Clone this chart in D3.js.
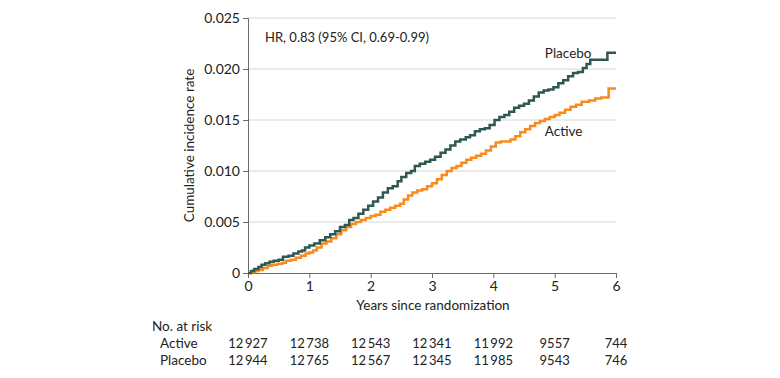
<!DOCTYPE html>
<html>
<head>
<meta charset="utf-8">
<script src="https://cdn.jsdelivr.net/npm/d3@7"></script>
<style>
  body { margin: 0; background: #fff; }
  svg text { font-family: Lato, "Open Sans", sans-serif; fill: #222; }
</style>
</head>
<body>
<div id="chart"></div>
<script>
// cumulative incidence, step points [years, rate]
const placeboTimes = [0, 0.05, 0.1, 0.17, 0.22, 0.28, 0.35, 0.42, 0.5, 0.57, 0.66, 0.74, 0.82, 0.88, 0.93, 1.0,
  1.08, 1.17, 1.26, 1.34, 1.42, 1.5, 1.58, 1.65, 1.72, 1.8, 1.88, 1.96, 2.04, 2.12, 2.2, 2.28, 2.36, 2.44, 2.5,
  2.58, 2.66, 2.72, 2.8, 2.89, 2.97, 3.05, 3.14, 3.22, 3.3, 3.38, 3.46, 3.55, 3.62, 3.7, 3.78, 3.86, 3.94, 4.02,
  4.1, 4.18, 4.26, 4.34, 4.42, 4.5, 4.58, 4.66, 4.74, 4.82, 4.9, 4.98, 5.06, 5.14, 5.22, 5.3, 5.38, 5.46, 5.52,
  5.58, 5.66, 5.86, 6.0];
const placeboValues = [0, 0.0002, 0.0004, 0.0006, 0.0008, 0.00095, 0.0011, 0.0012, 0.0013, 0.0016, 0.0017, 0.0019,
  0.0021, 0.0022, 0.0025, 0.0027, 0.0029, 0.0032, 0.0035, 0.0038, 0.0041, 0.0045, 0.0047, 0.0052, 0.0054, 0.0058,
  0.0062, 0.0066, 0.0070, 0.0074, 0.0079, 0.0083, 0.0085, 0.0090, 0.0094, 0.0098, 0.0100, 0.0105, 0.0107, 0.0109,
  0.0111, 0.0114, 0.0118, 0.0121, 0.0125, 0.0129, 0.0131, 0.0133, 0.0135, 0.0139, 0.0141, 0.0142, 0.0145, 0.0150,
  0.0153, 0.0155, 0.0158, 0.0162, 0.0164, 0.0166, 0.0169, 0.0173, 0.0177, 0.0179, 0.0180, 0.0182, 0.0186, 0.0189,
  0.0193, 0.0196, 0.0197, 0.0201, 0.0205, 0.0209, 0.0209, 0.0216, 0.0216];

const activeTimes = [0, 0.06, 0.12, 0.17, 0.24, 0.32, 0.39, 0.48, 0.56, 0.62, 0.7, 0.78, 0.86, 0.94, 1.0, 1.06,
  1.12, 1.2, 1.28, 1.36, 1.44, 1.52, 1.6, 1.68, 1.76, 1.84, 1.92, 2.0, 2.08, 2.16, 2.24, 2.32, 2.4, 2.48, 2.54,
  2.61, 2.68, 2.76, 2.84, 2.92, 3.0, 3.08, 3.16, 3.24, 3.32, 3.4, 3.48, 3.56, 3.64, 3.72, 3.8, 3.88, 3.96, 4.04,
  4.12, 4.2, 4.28, 4.36, 4.44, 4.52, 4.6, 4.68, 4.76, 4.84, 4.92, 5.0, 5.08, 5.17, 5.26, 5.35, 5.44, 5.56, 5.66,
  5.76, 5.88, 6.0];
const activeValues = [0, 0.0001, 0.0002, 0.0003, 0.0005, 0.0007, 0.0008, 0.0009, 0.0010, 0.0012, 0.0013, 0.0015,
  0.0017, 0.0019, 0.0020, 0.0022, 0.0025, 0.0029, 0.0031, 0.0034, 0.0038, 0.0042, 0.0045, 0.0048, 0.0050, 0.0052,
  0.0054, 0.0056, 0.0057, 0.0060, 0.0062, 0.0064, 0.0066, 0.0068, 0.0072, 0.0076, 0.0079, 0.0081, 0.0082, 0.0085,
  0.0088, 0.0092, 0.0096, 0.0100, 0.0103, 0.0105, 0.0108, 0.0111, 0.0113, 0.0115, 0.0117, 0.0120, 0.0124, 0.0128,
  0.0129, 0.0129, 0.0131, 0.0134, 0.0138, 0.0141, 0.0144, 0.0147, 0.0149, 0.0151, 0.0153, 0.0155, 0.0157, 0.0160,
  0.0163, 0.0165, 0.0168, 0.0169, 0.0171, 0.0172, 0.0181, 0.0181];

const xTicks = [0, 1, 2, 3, 4, 5, 6];
const yTicks = [0, 0.005, 0.010, 0.015, 0.020, 0.025];
const yTickLabels = ['0', '0.005', '0.010', '0.015', '0.020', '0.025'];

const riskGroups = ['Active', 'Placebo'];
const riskActive = ['12\u2009927', '12\u2009738', '12\u2009543', '12\u2009341', '11\u2009992', '9557', '744'];
const riskPlacebo = ['12\u2009944', '12\u2009765', '12\u2009567', '12\u2009345', '11\u2009985', '9543', '746'];

const width = 780;
const height = 378;
const margin = { left: 248, right: 164, top: 18, bottom: 105 };

const colPlacebo = '#2e5953';
const colActive = '#fb8a1c';

const svg = d3.select('#chart')
    .append('svg')
    .attr('width', width)
    .attr('height', height);

const xScale = d3.scaleLinear().domain([0, 6]).range([margin.left, width - margin.right]);
const yScale = d3.scaleLinear().domain([0, 0.025]).range([height - margin.bottom, margin.top]);

// gridlines
svg.append('g')
    .selectAll('line')
    .data(yTicks.slice(1))
    .enter()
    .append('line')
    .attr('x1', xScale(0))
    .attr('x2', xScale(6))
    .attr('y1', d => yScale(d))
    .attr('y2', d => yScale(d))
    .attr('stroke', '#d6d6d6')
    .attr('stroke-width', 1);

// y axis
const yAxis = svg.append('g')
    .attr('transform', `translate(${xScale(0)},0)`)
    .call(d3.axisLeft(yScale).tickValues(yTicks).tickFormat((d, i) => yTickLabels[i]).tickSize(5).tickPadding(3));
yAxis.select('.domain').attr('stroke', '#6b6b6b');
yAxis.selectAll('.tick line').attr('stroke', '#6b6b6b');
yAxis.selectAll('text').attr('font-size', 14).attr('fill', '#222');

// x axis
const xAxis = svg.append('g')
    .attr('transform', `translate(0,${yScale(0)})`)
    .call(d3.axisBottom(xScale).tickValues(xTicks).tickFormat(d3.format('d')).tickSize(5).tickPadding(3));
xAxis.select('.domain').attr('stroke', '#6b6b6b');
xAxis.selectAll('.tick line').attr('stroke', '#6b6b6b');
xAxis.selectAll('text').attr('font-size', 14).attr('fill', '#222');

// axis titles
svg.append('text')
    .attr('x', xScale(3) + 1)
    .attr('y', 310)
    .attr('text-anchor', 'middle')
    .attr('font-size', 13.5)
    .text('Years since randomization');

svg.append('text')
    .attr('transform', `translate(194,${(yScale(0) + yScale(0.025)) / 2}) rotate(-90)`)
    .attr('text-anchor', 'middle')
    .attr('font-size', 13.5)
    .text('Cumulative incidence rate');

// curves
const line = d3.line()
    .x(d => xScale(d[0]))
    .y(d => yScale(d[1]))
    .curve(d3.curveStepAfter);

const series = [
    { times: activeTimes, values: activeValues, color: colActive },
    { times: placeboTimes, values: placeboValues, color: colPlacebo }
];

svg.append('g')
    .selectAll('path')
    .data(series)
    .enter()
    .append('path')
    .attr('fill', 'none')
    .attr('stroke', d => d.color)
    .attr('stroke-width', 2.5)
    .attr('d', d => line(d.times.map((t, i) => [t, d.values[i]])));

// annotations
svg.append('text')
    .attr('x', xScale(0) + 17)
    .attr('y', 42)
    .attr('font-size', 13)
    .text('HR, 0.83 (95% CI, 0.69-0.99)');

svg.append('text')
    .attr('x', xScale(4.84))
    .attr('y', 58)
    .attr('font-size', 13.5)
    .text('Placebo');

svg.append('text')
    .attr('x', xScale(4.84))
    .attr('y', 136)
    .attr('font-size', 13.5)
    .text('Active');

// risk table
svg.append('text')
    .attr('x', 152)
    .attr('y', 331)
    .attr('font-size', 13.5)
    .text('No. at risk');

const riskRows = [riskActive, riskPlacebo];
riskRows.forEach((row, r) => {
    const y = 348 + r * 17;
    svg.append('text')
        .attr('x', 160)
        .attr('y', y)
        .attr('font-size', 13.5)
        .text(riskGroups[r]);
    svg.append('g')
        .selectAll('text')
        .data(row)
        .enter()
        .append('text')
        .attr('x', (d, i) => xScale(xTicks[i]))
        .attr('y', y)
        .attr('text-anchor', 'middle')
        .attr('font-size', 13)
        .text(d => d);
});
</script>
</body>
</html>
